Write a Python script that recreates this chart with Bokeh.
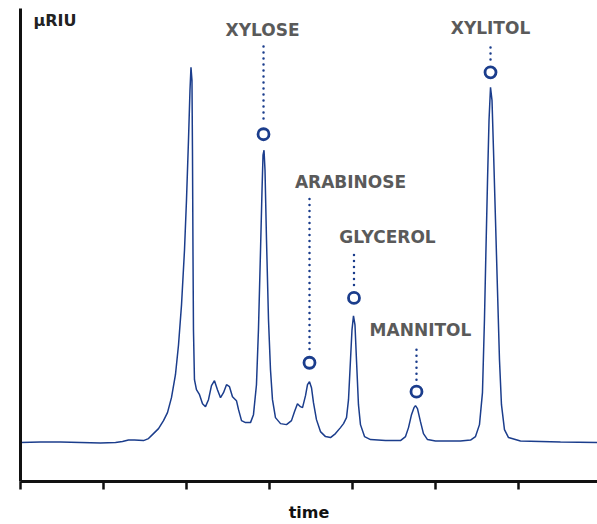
from bokeh.plotting import figure
from bokeh.models import Range1d, FixedTicker, CustomJSTickFormatter, Label, ColumnDataSource
from bokeh.core.properties import value
from bokeh.embed import file_html
from bokeh.resources import INLINE

# chromatogram trace (time units, µRIU units)
time = [0.000, 0.241, 0.482, 0.723, 0.964, 1.145, 1.229, 1.301, 1.373, 1.482, 1.542, 1.602,
        1.663, 1.723, 1.771, 1.819, 1.867, 1.904, 1.940, 1.976, 2.000, 2.024, 2.042, 2.054,
        2.066, 2.072, 2.078, 2.084, 2.096, 2.120, 2.157, 2.193, 2.229, 2.265, 2.301, 2.337,
        2.373, 2.410, 2.446, 2.482, 2.518, 2.554, 2.602, 2.627, 2.663, 2.711, 2.771, 2.807,
        2.843, 2.867, 2.892, 2.910, 2.922, 2.934, 2.946, 2.964, 2.988, 3.012, 3.036, 3.072,
        3.133, 3.205, 3.265, 3.301, 3.337, 3.373, 3.398, 3.434, 3.458, 3.482, 3.506, 3.530,
        3.566, 3.614, 3.675, 3.735, 3.795, 3.855, 3.892, 3.928, 3.952, 3.976, 3.994, 4.012,
        4.030, 4.048, 4.072, 4.096, 4.145, 4.217, 4.398, 4.578, 4.639, 4.675, 4.711, 4.741,
        4.759, 4.783, 4.819, 4.855, 4.904, 5.000, 5.301, 5.422, 5.482, 5.530, 5.566, 5.590,
        5.608, 5.627, 5.645, 5.663, 5.681, 5.699, 5.723, 5.747, 5.771, 5.795, 5.831, 5.880,
        6.024, 6.506, 6.952]
signal = [0.0, 0.05, 0.05, 0.0, -0.05, 0.0, 0.1, 0.25, 0.25, 0.2, 0.4, 0.9,
          1.4, 2.2, 3.0, 4.5, 6.8, 9.8, 13.8, 19.3, 24.3, 30.3, 35.3, 37.6,
          36.3, 29.3, 19.3, 11.3, 6.3, 5.3, 4.8, 3.9, 3.6, 4.3, 5.7, 6.2,
          5.3, 4.5, 5.0, 5.8, 5.6, 4.6, 4.2, 3.3, 2.2, 2.0, 2.0, 2.8,
          5.8, 11.3, 19.3, 25.3, 28.8, 29.3, 27.3, 20.3, 12.3, 7.3, 4.3, 2.5,
          1.9, 1.8, 2.2, 3.1, 3.9, 3.6, 3.5, 4.7, 5.8, 6.1, 5.5, 4.0,
          2.3, 1.1, 0.6, 0.5, 0.9, 1.5, 1.9, 2.5, 4.3, 8.3, 11.3, 12.7,
          11.8, 8.3, 3.8, 1.8, 0.6, 0.3, 0.2, 0.2, 0.6, 1.5, 2.8, 3.5,
          3.7, 3.4, 2.1, 0.9, 0.3, 0.15, 0.15, 0.25, 0.6, 1.8, 5.0, 12.3,
          19.3, 26.3, 32.3, 35.6, 34.3, 29.3, 22.3, 15.3, 8.3, 3.8, 1.3, 0.5,
          0.15, 0.05, 0.0]

# annotated compounds
names = ["XYLOSE", "ARABINOSE", "GLYCEROL", "MANNITOL", "XYLITOL"]
marker_t = [2.928, 3.482, 4.018, 4.771, 5.663]
marker_y = [30.9, 8.0, 14.5, 5.1, 37.1]
stem_top = [39.7, 24.4, 18.8, 9.3, 39.6]
stem_bottom = [32.1, 9.1, 15.5, 6.1, 38.3]
label_t = [2.916, 3.976, 4.422, 4.819, 5.663]
label_y = [41.3, 26.1, 20.6, 11.3, 41.5]

x_ticks = [0, 1, 2, 3, 4, 5, 6]

NAVY = "#1b3d8c"
FONT = "DejaVu Sans"

p = figure(width=597, height=524, output_backend="svg", toolbar_location=None,
           x_range=Range1d(0, 6.952), y_range=Range1d(-3.9, 43.5),
           min_border_left=20, min_border_right=0, min_border_top=8, min_border_bottom=42)
p.outline_line_color = None
p.xgrid.visible = False
p.ygrid.visible = False
p.background_fill_color = "white"
p.border_fill_color = "white"

empty = CustomJSTickFormatter(code="return ''")

p.xaxis.ticker = FixedTicker(ticks=x_ticks)
p.xaxis.formatter = empty
p.xaxis.minor_tick_line_color = None
p.xaxis.major_tick_in = 0
p.xaxis.major_tick_out = 8
p.xaxis.major_tick_line_width = 2.5
p.xaxis.major_tick_line_color = "#111111"
p.xaxis.axis_line_width = 3
p.xaxis.axis_line_color = "#111111"
p.xaxis.major_label_standoff = 0
p.xaxis.axis_label = "time"
p.xaxis.axis_label_text_font = FONT
p.xaxis.axis_label_text_font_style = "bold"
p.xaxis.axis_label_text_font_size = "16px"
p.xaxis.axis_label_text_color = "#111111"
p.xaxis.axis_label_standoff = 13

p.yaxis.ticker = FixedTicker(ticks=[])
p.yaxis.formatter = empty
p.yaxis.minor_tick_line_color = None
p.yaxis.major_tick_line_color = None
p.yaxis.axis_line_width = 3
p.yaxis.axis_line_color = "#111111"
p.yaxis.major_label_standoff = 0

p.line(time, signal, line_color=NAVY, line_width=1.5)

for i in range(len(names)):
    p.line([marker_t[i], marker_t[i]], [stem_top[i], stem_bottom[i]], line_color=NAVY,
           line_width=2.5, line_dash="0 6", line_cap="round")

p.scatter(marker_t, marker_y, size=11, marker="circle", fill_color="white",
          line_color=NAVY, line_width=2.8)

src = ColumnDataSource(dict(x=label_t, y=label_y, text=names))
p.text(x="x", y="y", text="text", source=src, text_font=value(FONT),
       text_font_style="bold", text_font_size="17px", text_color="#5a5a5a",
       text_align="center", text_baseline="middle")

p.add_layout(Label(x=0.157, y=42.3, text="µRIU", text_font=FONT, text_font_style="bold",
                   text_font_size="16px", text_color="#222222", text_baseline="middle"))

open("out.html", "w").write(file_html(p, INLINE))
